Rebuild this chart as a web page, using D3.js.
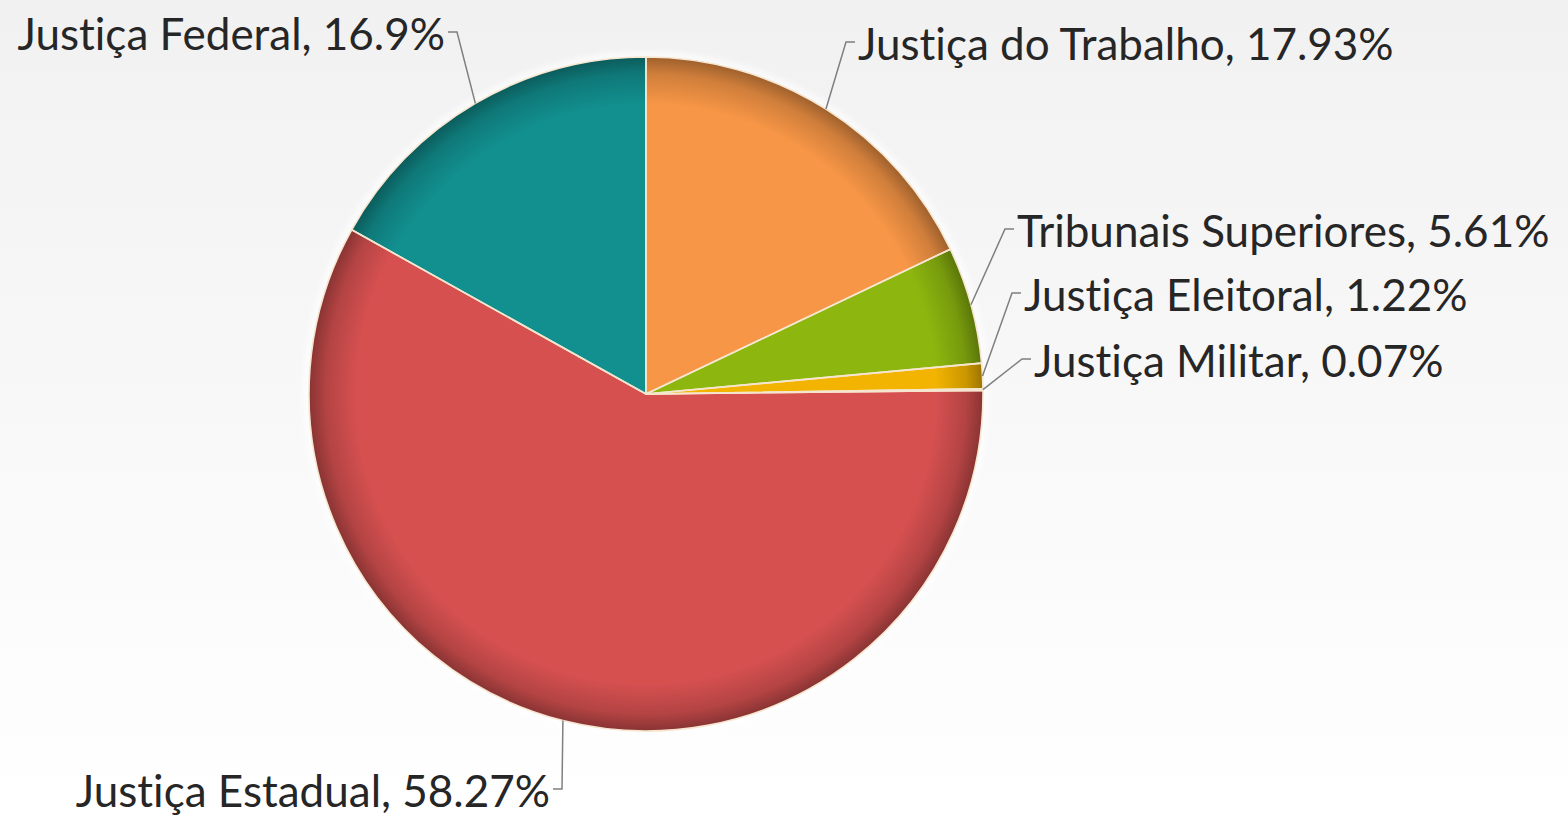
<!DOCTYPE html>
<html>
<head>
<meta charset="utf-8">
<script src="https://cdn.jsdelivr.net/npm/d3@7"></script>
<style>
  html, body { margin: 0; padding: 0; background: #fff; }
  svg { display: block; }
  text { font-variant-ligatures: none; font-feature-settings: "liga" 0, "clig" 0; }
</style>
</head>
<body>
<svg id="chart" width="1568" height="817"></svg>
<script>
// ---- data ----
const categories = ["Justiça do Trabalho", "Tribunais Superiores", "Justiça Eleitoral", "Justiça Militar", "Justiça Estadual", "Justiça Federal"];
const values = [17.93, 5.61, 1.22, 0.07, 58.27, 16.9];
const valueLabels = ["17.93%", "5.61%", "1.22%", "0.07%", "58.27%", "16.9%"];
const colors = ["#f79646", "#8db70f", "#f2b400", "#f4c88f", "#d65050", "#128f8f"];

// ---- layout (positions of labels) ----
const labelLayout = [
  { x: 858, y: 60, anchor: "start" },
  { x: 1017, y: 247, anchor: "start" },
  { x: 1024, y: 311, anchor: "start" },
  { x: 1034, y: 377, anchor: "start" },
  { x: 550, y: 807, anchor: "end" },
  { x: 445, y: 50, anchor: "end" }
];

const W = 1568, H = 817;
const cx = 646, cy = 394, R = 337;
const svg = d3.select("#chart");
const defs = svg.append("defs");

const bg = defs.append("linearGradient").attr("id", "bg").attr("x1", 0).attr("y1", 0).attr("x2", 0).attr("y2", 1);
bg.append("stop").attr("offset", "0%").attr("stop-color", "#f1f1f1");
bg.append("stop").attr("offset", "100%").attr("stop-color", "#ffffff");
svg.append("rect").attr("width", W).attr("height", H).attr("fill", "url(#bg)");

const shade = defs.append("radialGradient").attr("id", "shade")
  .attr("cx", cx).attr("cy", cy).attr("r", R).attr("gradientUnits", "userSpaceOnUse");
shade.append("stop").attr("offset", "0%").attr("stop-color", "#000").attr("stop-opacity", 0);
shade.append("stop").attr("offset", "86%").attr("stop-color", "#000").attr("stop-opacity", 0);
shade.append("stop").attr("offset", "95%").attr("stop-color", "#000").attr("stop-opacity", 0.16);
shade.append("stop").attr("offset", "100%").attr("stop-color", "#000").attr("stop-opacity", 0.36);

const glow = defs.append("filter").attr("id", "glow").attr("x", "-10%").attr("y", "-10%").attr("width", "120%").attr("height", "120%");
glow.append("feGaussianBlur").attr("stdDeviation", 3);

const pie = d3.pie().sort(null).value(d => d)(values);
const arc = d3.arc().innerRadius(0).outerRadius(R);

const g = svg.append("g").attr("transform", `translate(${cx},${cy})`);

// soft outer halo
g.append("circle").attr("r", R + 2).attr("fill", "none")
  .attr("stroke", "#ffffff").attr("stroke-width", 5).attr("filter", "url(#glow)");

g.selectAll("path.slice").data(pie).join("path")
  .attr("class", "slice")
  .attr("d", arc)
  .attr("fill", (d, i) => colors[i]);

// inner rim shading
g.append("circle").attr("r", R).attr("fill", "url(#shade)")
  .attr("transform", `translate(${-cx},${-cy})`).attr("cx", cx).attr("cy", cy);

// slice borders
g.selectAll("path.border").data(pie).join("path")
  .attr("class", "border")
  .attr("d", arc)
  .attr("fill", "none")
  .attr("stroke", "#f6e6cf")
  .attr("stroke-width", 1.6)
  .attr("stroke-linejoin", "round");

// labels and leader lines
const lab = svg.append("g");
pie.forEach((d, i) => {
  const L = labelLayout[i];
  const mid = (d.startAngle + d.endAngle) / 2;
  const ex = cx + R * Math.sin(mid), ey = cy - R * Math.cos(mid);
  const ty = L.y - 18;
  const dir = L.anchor === "start" ? -1 : 1;
  const t1 = L.x + dir * 3, t2 = L.x + dir * 12;
  lab.append("polyline")
    .attr("points", `${ex},${ey} ${t2},${ty} ${t1},${ty}`)
    .attr("fill", "none").attr("stroke", "#7f7f7f").attr("stroke-width", 1.5);
  lab.append("text")
    .attr("x", L.x).attr("y", L.y)
    .attr("text-anchor", L.anchor)
    .attr("font-family", "Lato, 'Open Sans', sans-serif")
    .attr("font-size", 44)
    .attr("fill", "#262626")
    .text(`${categories[i]}, ${valueLabels[i]}`);
});
</script>
</body>
</html>
